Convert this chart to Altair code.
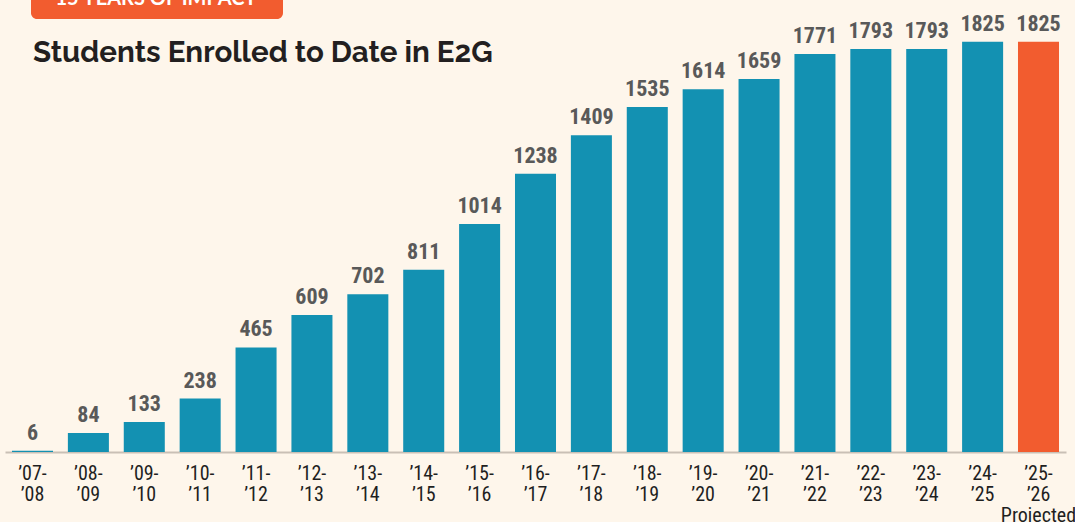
import altair as alt
import pandas as pd

years = ["’07-|’08", "’08-|’09", "’09-|’10", "’10-|’11", "’11-|’12", "’12-|’13",
         "’13-|’14", "’14-|’15", "’15-|’16", "’16-|’17", "’17-|’18", "’18-|’19",
         "’19-|’20", "’20-|’21", "’21-|’22", "’22-|’23", "’23-|’24", "’24-|’25",
         "’25-|’26|Projected"]
students = [6, 84, 133, 238, 465, 609, 702, 811, 1014, 1238, 1409, 1535,
            1614, 1659, 1771, 1793, 1793, 1825, 1825]
status = ["Actual"] * 18 + ["Projected"]

title_text = ["Students Enrolled to Date in E2G"]
badge_text = ["15 YEARS OF IMPACT"]

BG = "#fef6eb"
TEAL = "#1391b2"
ORANGE = "#f25c2f"
COND = "Roboto Condensed, Liberation Sans Narrow, DejaVu Sans Condensed, Roboto, sans-serif"

df = pd.DataFrame({"year": years, "students": students, "status": status})

x = alt.X("year:N", sort=years, title=None,
          scale=alt.Scale(paddingInner=0.266, paddingOuter=0.125),
          axis=alt.Axis(labelAngle=0, ticks=False, labelExpr="split(datum.value, '|')",
                        labelFont=COND, labelFontSize=20, labelColor="#1f1f1f",
                        labelLineHeight=21, labelPadding=11, labelBaseline="top",
                        labelOverlap=False,
                        domainColor="#c9c0b6", domainWidth=2, grid=False))
y = alt.Y("students:Q", title=None, axis=None, scale=alt.Scale(domain=[0, 2011], nice=False))

base = alt.Chart(df)
bars = base.mark_bar().encode(
    x=x, y=y,
    color=alt.Color("status:N", legend=None,
                    scale=alt.Scale(domain=["Actual", "Projected"], range=[TEAL, ORANGE])),
)
labels = base.mark_text(font=COND, fontSize=22, fontWeight="bold", color="#595959",
                        baseline="alphabetic", dy=-11).encode(
    x=alt.X("year:N", sort=years), y="students:Q", text="students:Q")

badge = alt.Chart(pd.DataFrame({"t": badge_text})).mark_rect(
    color=ORANGE, cornerRadius=6).encode(
    x=alt.value(26), x2=alt.value(278), y=alt.value(-20), y2=alt.value(19))
badge_lbl = alt.Chart(pd.DataFrame({"t": badge_text})).mark_text(
    font="Lato, sans-serif", fontSize=20, fontWeight="bold", color="white",
    align="center", baseline="alphabetic").encode(
    x=alt.value(151), y=alt.value(5), text="t:N")
title = alt.Chart(pd.DataFrame({"t": title_text})).mark_text(
    font="Raleway, Lato, sans-serif", fontSize=29.5, fontWeight="bold", color="#231f20",
    align="left", baseline="alphabetic").encode(
    x=alt.value(28), y=alt.value(62), text="t:N")

chart = alt.layer(bars, labels, badge, badge_lbl, title).properties(
    width=1061, height=452,
    background=BG,
    padding={"left": 5, "top": 0, "right": 9, "bottom": 70},
    autosize=alt.AutoSizeParams(type="none"),
).configure_view(stroke=None)

chart.save("out.html", embed_options={"renderer": "svg", "actions": False})
